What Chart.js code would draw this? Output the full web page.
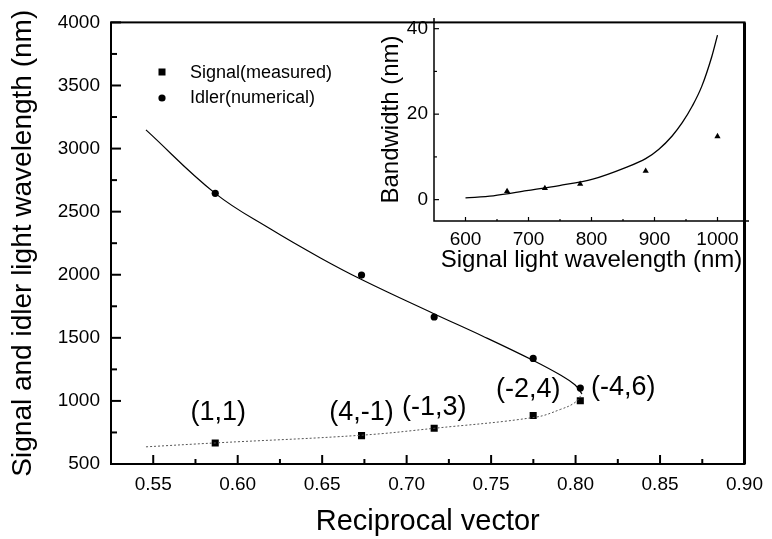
<!DOCTYPE html>
<html>
<head>
<meta charset="utf-8">
<script src="https://cdn.jsdelivr.net/npm/chart.js@4"></script>
<style>
  body { margin: 0; background: #fff; }
  #wrap { position: relative; width: 772px; height: 539px; }
  #mainChart { position: absolute; left: 0; top: 0; }
  #insetChart { position: absolute; left: 360px; top: 0; }
</style>
</head>
<body>
<div id="wrap">
  <canvas id="mainChart" width="772" height="539"></canvas>
  <canvas id="insetChart" width="412" height="290"></canvas>
</div>
<script>
//  Main chart: measured signal and numerical idler points
const vectorX = [0.5867, 0.6733, 0.7163, 0.7749, 0.8028]
const signalY = [667, 725, 783, 885, 1002]
const idlerY = [2645, 1997, 1665, 1337, 1102]
const modeLabels = ['(1,1)', '(4,-1)', '(-1,3)', '(-2,4)', '(-4,6)']

//  Calculated curves
const idlerCurveX = [0.5457, 0.5867, 0.6197, 0.649, 0.6736, 0.7158, 0.7451, 0.7744, 0.7918, 0.7996, 0.8038]
const idlerCurveY = [3148, 2645, 2360, 2133, 1960, 1693, 1513, 1324, 1199, 1128, 1055]
const signalCurveX = [0.5457, 0.5867, 0.673, 0.7163, 0.7762, 0.7909, 0.7996, 0.8038]
const signalCurveY = [636, 667, 728, 783, 871, 932, 987, 1055]

const xTicks = [0.55, 0.6, 0.65, 0.7, 0.75, 0.8, 0.85, 0.9]
const xMinor = [0.575, 0.625, 0.675, 0.725, 0.775, 0.825, 0.875]
const yTicks = [500, 1000, 1500, 2000, 2500, 3000, 3500, 4000]
const yMinor = [750, 1250, 1750, 2250, 2750, 3250, 3750]

//  Inset: bandwidth vs signal wavelength
const bwWavelength = [666, 726, 782, 886, 1000]
const bwMeasured = [1.95, 2.65, 3.65, 6.7, 14.8]
const bwCurveX = [600, 644, 697, 749, 802, 854, 886, 907, 928, 944, 960, 975, 991, 1000]
const bwCurveY = [0.4, 0.9, 2.1, 3.3, 4.8, 7.5, 9.6, 11.8, 14.9, 18.0, 21.9, 26.5, 33.5, 38.5]
const insetXTicks = [600, 700, 800, 900, 1000]
const insetXMinor = [650, 750, 850, 950]
const insetYTicks = [0, 20, 40]
const insetYMinor = [10, 30]

const FONT = 'Liberation Sans, Arial, sans-serif'
Chart.defaults.font.family = FONT
Chart.defaults.color = '#000'

const zip = (xs, ys) => xs.map((x, i) => ({ x, y: ys[i] }))

//  Inward tick marks drawn from the scales
function tickMarks (list) {
  return {
    id: 'tickMarks',
    afterDatasetsDraw (chart) {
      const { ctx, chartArea } = chart
      ctx.save()
      ctx.strokeStyle = '#000'
      list.forEach(t => {
        const scale = chart.scales[t.axis]
        ctx.lineWidth = t.width
        t.values.forEach(v => {
          const p = scale.getPixelForValue(v)
          ctx.beginPath()
          if (scale.isHorizontal()) {
            ctx.moveTo(p, chartArea.bottom)
            ctx.lineTo(p, chartArea.bottom - t.len)
          } else {
            ctx.moveTo(chartArea.left, p)
            ctx.lineTo(chartArea.left + t.len, p)
          }
          ctx.stroke()
        })
      })
      ctx.restore()
    }
  }
}

const mainFrame = {
  id: 'mainFrame',
  afterDatasetsDraw (chart) {
    const { ctx, chartArea: a } = chart
    ctx.save()
    ctx.strokeStyle = '#000'
    ctx.lineWidth = 2
    ctx.strokeRect(a.left, a.top, a.right - a.left, a.bottom - a.top)
    ctx.lineWidth = 3
    ctx.beginPath()
    ctx.moveTo(a.right, a.top)
    ctx.lineTo(a.right, a.bottom)
    ctx.stroke()

    // legend
    ctx.fillStyle = '#000'
    ctx.fillRect(158.5, 68.5, 7, 7)
    ctx.beginPath()
    ctx.arc(162, 98, 3.6, 0, Math.PI * 2)
    ctx.fill()
    ctx.font = '18px ' + FONT
    ctx.textBaseline = 'middle'
    ctx.fillText('Signal(measured)', 190, 73)
    ctx.fillText('Idler(numerical)', 190, 98)

    // mode labels beside the signal points
    const offsets = [[3, -30], [0, -23], [0, -21], [-5, -26], [43, -13]]
    ctx.font = '27px ' + FONT
    ctx.textAlign = 'center'
    const xs = chart.scales.x
    const ys = chart.scales.y
    modeLabels.forEach((label, i) => {
      const px = xs.getPixelForValue(vectorX[i]) + offsets[i][0]
      const py = ys.getPixelForValue(signalY[i]) + offsets[i][1]
      ctx.fillText(label, px, py)
    })
    ctx.restore()
  }
}

const insetFrame = {
  id: 'insetFrame',
  afterDatasetsDraw (chart) {
    const { ctx, chartArea: a } = chart
    ctx.save()
    ctx.strokeStyle = '#000'
    ctx.lineWidth = 1.5
    ctx.beginPath()
    ctx.moveTo(a.left, a.top)
    ctx.lineTo(a.left, a.bottom)
    ctx.lineTo(a.right, a.bottom)
    ctx.stroke()
    ctx.restore()
  }
}

new Chart(document.getElementById('mainChart'), {
  type: 'scatter',
  data: {
    datasets: [
      {
        data: zip(idlerCurveX, idlerCurveY),
        showLine: true,
        borderColor: '#000',
        borderWidth: 1.2,
        pointRadius: 0,
        tension: 0.4
      },
      {
        data: zip(signalCurveX, signalCurveY),
        showLine: true,
        borderColor: '#555',
        borderWidth: 1,
        borderDash: [2, 2],
        pointRadius: 0,
        tension: 0.4
      },
      {
        data: zip(vectorX, signalY),
        pointStyle: 'rect',
        pointRadius: 5,
        backgroundColor: '#000',
        borderWidth: 0
      },
      {
        data: zip(vectorX, idlerY),
        pointStyle: 'circle',
        pointRadius: 3.6,
        backgroundColor: '#000',
        borderWidth: 0
      }
    ]
  },
  options: {
    responsive: false,
    animation: false,
    layout: { padding: { top: 18, right: 21, left: 0, bottom: 0 } },
    plugins: { legend: { display: false }, tooltip: { enabled: false } },
    scales: {
      x: {
        type: 'linear',
        min: 0.525,
        max: 0.9,
        afterFit: s => { s.height = 75 },
        afterBuildTicks: s => { s.ticks = xTicks.map(v => ({ value: v })) },
        grid: { display: false, drawTicks: false },
        border: { display: false },
        ticks: { padding: 9, font: { size: 19 }, callback: v => v.toFixed(2) },
        title: { display: true, text: 'Reciprocal vector', font: { size: 29 }, padding: { top: 0, bottom: 0 } }
      },
      y: {
        type: 'linear',
        min: 500,
        max: 4000,
        afterFit: s => { s.width = 111 },
        afterBuildTicks: s => { s.ticks = yTicks.map(v => ({ value: v })) },
        grid: { display: false, drawTicks: false },
        border: { display: false },
        ticks: { padding: 11, font: { size: 19 }, callback: v => String(v) },
        title: { display: true, text: 'Signal and idler light wavelength (nm)', font: { size: 28 }, padding: { top: 6, bottom: 0 } }
      }
    }
  },
  plugins: [
    mainFrame,
    tickMarks([
      { axis: 'x', values: xTicks, len: 9, width: 2 },
      { axis: 'x', values: xMinor, len: 5, width: 2 },
      { axis: 'y', values: yTicks, len: 10, width: 2 },
      { axis: 'y', values: yMinor, len: 6, width: 2 }
    ])
  ]
})

new Chart(document.getElementById('insetChart'), {
  type: 'scatter',
  data: {
    datasets: [
      {
        data: zip(bwCurveX, bwCurveY),
        showLine: true,
        borderColor: '#000',
        borderWidth: 1.3,
        pointRadius: 0,
        cubicInterpolationMode: 'monotone'
      },
      {
        data: zip(bwWavelength, bwMeasured),
        pointStyle: 'triangle',
        pointRadius: 3.6,
        backgroundColor: '#000',
        borderWidth: 0
      }
    ]
  },
  options: {
    responsive: false,
    animation: false,
    layout: { padding: { top: 18, right: 23, left: 0, bottom: 0 } },
    plugins: { legend: { display: false }, tooltip: { enabled: false } },
    scales: {
      x: {
        type: 'linear',
        min: 550,
        max: 1050,
        afterFit: s => { s.height = 69 },
        afterBuildTicks: s => { s.ticks = insetXTicks.map(v => ({ value: v })) },
        grid: { display: false, drawTicks: false },
        border: { display: false },
        ticks: { padding: 7, font: { size: 19 }, callback: v => String(v) },
        title: { display: true, text: 'Signal light wavelength (nm)', font: { size: 24 }, padding: { top: 0, bottom: 15 } }
      },
      y: {
        type: 'linear',
        min: -5,
        max: 42.5,
        afterFit: s => { s.width = 74 },
        afterBuildTicks: s => { s.ticks = insetYTicks.map(v => ({ value: v })) },
        grid: { display: false, drawTicks: false },
        border: { display: false },
        ticks: { padding: 6, font: { size: 19 }, callback: v => String(v) },
        title: { display: true, text: 'Bandwidth (nm)', font: { size: 24 }, padding: { top: 17, bottom: 0 } }
      }
    }
  },
  plugins: [
    insetFrame,
    tickMarks([
      { axis: 'x', values: insetXTicks, len: 4, width: 1.2 },
      { axis: 'x', values: insetXMinor, len: 2, width: 1.2 },
      { axis: 'y', values: insetYTicks, len: 5, width: 1.2 },
      { axis: 'y', values: insetYMinor, len: 3, width: 1.2 }
    ])
  ]
})
</script>
</body>
</html>
